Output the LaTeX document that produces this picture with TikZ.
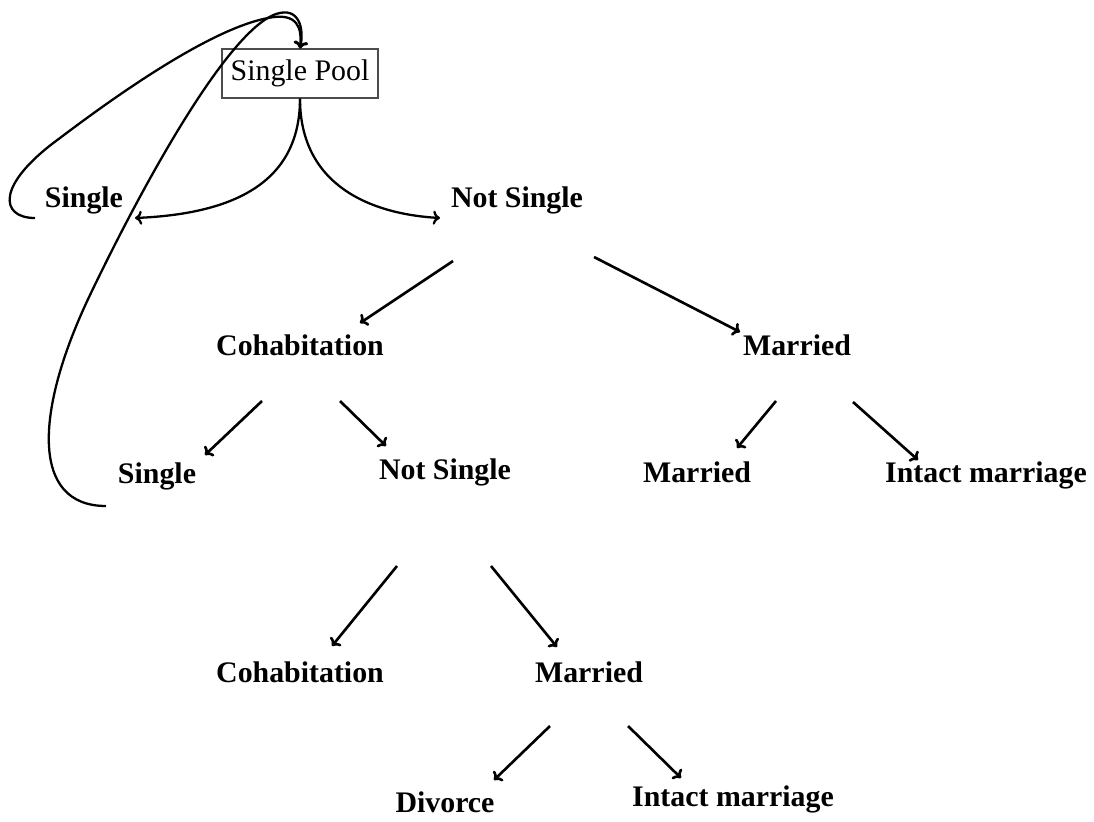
\documentclass[tikz,border=0pt]{standalone}
\usepackage{fontspec}
\setmainfont{Liberation Serif}
\usetikzlibrary{arrows.meta,calc}
\tikzset{
  lbl/.style={anchor=base, inner sep=0pt, font=\fontsize{17}{20}\selectfont\bfseries},
  poolbox/.style={draw=black!70, line width=0.6pt, minimum width=3.12cm, minimum height=0.98cm, inner sep=0pt, font=\fontsize{17}{20}\selectfont},
  arr/.style={line width=1.5pt, -{To[length=4pt,width=8pt]}},
  curvearr/.style={line width=1.3pt, -{To[length=4pt,width=8pt]}}
}
\begin{document}
\begin{tikzpicture}[x=0.02cm,y=-0.02cm]
    \useasboundingbox (0,0) rectangle (1094,821);
    % states
    \node[poolbox] (pool) at (300,73.5) {Single Pool};
    \node[lbl] (sglA) at (84,207) {Single};
    \node[lbl] (nsA) at (517,207) {Not Single};
    \node[lbl] (cohA) at (300,355) {Cohabitation};
    \node[lbl] (marA) at (797,355) {Married};
    \node[lbl] (sglB) at (157,483) {Single};
    \node[lbl] (nsB) at (445,479) {Not Single};
    \node[lbl] (marB) at (697,482) {Married};
    \node[lbl] (intA) at (986,482) {Intact marriage};
    \node[lbl] (cohB) at (300,682) {Cohabitation};
    \node[lbl] (marC) at (589,682) {Married};
    \node[lbl] (divC) at (445,812) {Divorce};
    \node[lbl] (intC) at (733,806) {Intact marriage};
    % loose ends of the loops
    \coordinate (endA) at (35,218);
    \coordinate (endB) at (106,506);
    % first split
    \draw[curvearr] (pool.south) .. controls (300,185) and (230,214) .. ($(sglA.base)+(51,11)$);
    \draw[curvearr] (pool.south) .. controls (300,185) and (370,214) .. ($(nsA.base)+(-77,11)$);
    % back to the pool
    \draw[curvearr] (endA) .. controls (0,218) and (-5,185) .. (60,138) .. controls (130,85) and (215,28) .. (268,18) .. controls (298,12) and (302,28) .. (pool.north);
    \draw[curvearr] (endB) .. controls (30,506) and (35,410) .. (90,295) .. controls (150,170) and (230,30) .. (276,14) .. controls (300,6) and (304,30) .. (pool.north);
    % tree
    \draw[arr] ($(nsA.base)+(-64,54)$) -- ($(cohA.base)+(60,-32)$);
    \draw[arr] ($(nsA.base)+(77,50)$) -- ($(marA.base)+(-57,-23)$);
    \draw[arr] ($(cohA.base)+(-38,46)$) -- ($(sglB.base)+(48,-28)$);
    \draw[arr] ($(cohA.base)+(40,46)$) -- ($(nsB.base)+(-59,-33)$);
    \draw[arr] ($(marA.base)+(-21,46)$) -- ($(marB.base)+(40,-34)$);
    \draw[arr] ($(marA.base)+(56,47)$) -- ($(intA.base)+(-68,-22)$);
    \draw[arr] ($(nsB.base)+(-48,87)$) -- ($(cohB.base)+(32,-36)$);
    \draw[arr] ($(nsB.base)+(46,87)$) -- ($(marC.base)+(-32,-35)$);
    \draw[arr] ($(marC.base)+(-39,44)$) -- ($(divC.base)+(49,-32)$);
    \draw[arr] ($(marC.base)+(39,44)$) -- ($(intC.base)+(-52,-28)$);
\end{tikzpicture}
\end{document}
